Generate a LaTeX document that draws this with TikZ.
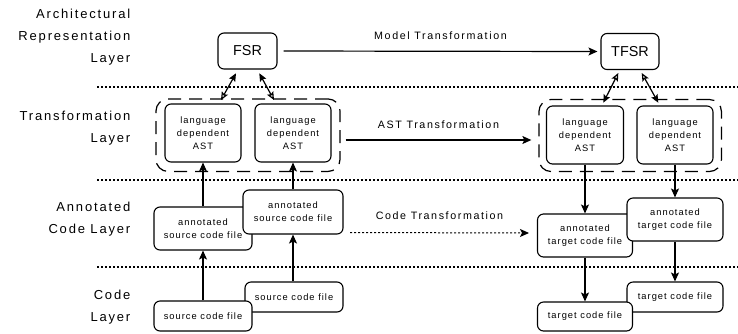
\documentclass[tikz,border=0pt]{standalone}
\usepackage{fontspec}
\setmainfont{Liberation Sans}
\newfontfamily\spfont[LetterSpace=14]{Liberation Sans}
\newfontfamily\trfont[LetterSpace=15]{Liberation Sans}
\newfontfamily\boxfont[LetterSpace=11]{Liberation Sans}
\usetikzlibrary{arrows.meta,calc}
\tikzset{
  layerlab/.style={anchor=east, align=right, font=\spfont\fontsize{13}{22}\selectfont, inner sep=0pt},
  translab/.style={font=\trfont\fontsize{10.7}{13}\selectfont, inner sep=0pt},
  rbox/.style={draw, line width=1.1pt, rounded corners=6pt, fill=white, align=center, inner sep=0pt, font=\boxfont\fontsize{9.3}{13}\selectfont},
  bigbox/.style={draw, line width=1.1pt, rounded corners=6pt, fill=white, inner sep=0pt, font=\fontsize{14.4}{16}\selectfont},
  grp/.style={draw, line width=1.2pt, rounded corners=12pt, dash pattern=on 13pt off 8pt, inner sep=0pt},
  sepline/.style={line width=2.2pt, dash pattern=on 2pt off 2pt},
  arr/.style={line width=1.2pt, -{Stealth[length=9pt,width=8pt,inset=2pt]}},
  dotarr/.style={line width=1pt, dash pattern=on 2pt off 2pt, -{Stealth[length=9pt,width=8pt,inset=2pt]}},
  dbl/.style={line width=1.2pt, {Stealth[open,length=8pt,width=7pt,inset=1.5pt]}-{Stealth[length=8pt,width=7pt,inset=1.5pt]}},
}
\begin{document}
\begin{tikzpicture}[x=1pt,y=-1pt]
\useasboundingbox (0,0) rectangle (738,333);

% layer labels
\node[layerlab] (l1) at (130.5,37.5) {Architectural\\Representation\\Layer};
\node[layerlab] (l2) at (130.5,128.5) {Transformation\\Layer};
\node[layerlab] (l3) at (130.5,219) {Annotated\\Code Layer};
\node[layerlab] (l4) at (130.5,307) {Code\\Layer};

% separators
\coordinate (s1a) at (97,87);  \coordinate (s1b) at (738,87);
\coordinate (s2a) at (97,180); \coordinate (s2b) at (738,180);
\coordinate (s3a) at (97,267); \coordinate (s3b) at (738,267);
\draw[sepline] (s1a) -- (s1b);
\draw[sepline] (s2a) -- (s2b);
\draw[sepline] (s3a) -- (s3b);

% architectural layer
\node[bigbox, minimum width=59pt, minimum height=36pt] (fsr) at (247.5,51) {FSR};
\node[bigbox, minimum width=58pt, minimum height=36pt] (tfsr) at (630,51.5) {TFSR};
\draw[arr] ($(fsr.east)+(6,0)$) -- ($(tfsr.west)+(-3,0)$)
  node[translab, midway, yshift=16pt] (mt) {Model Transformation};

% transformation layer
\node[grp, minimum width=184pt, minimum height=72.5pt] (g1) at (248,135.2) {};
\node[grp, minimum width=182.5pt, minimum height=72pt] (g2) at (630.2,135.5) {};
\node[rbox, minimum width=76pt, minimum height=58pt] (ast1) at (203,133) {language\\dependent\\AST};
\node[rbox, minimum width=76pt, minimum height=58pt] (ast2) at (293,133) {language\\dependent\\AST};
\node[rbox, minimum width=77pt, minimum height=58pt] (ast3) at (585,135) {language\\dependent\\AST};
\node[rbox, minimum width=76pt, minimum height=58pt] (ast4) at (675,135) {language\\dependent\\AST};
\draw[arr] ($(g1.east)+(5,4.8)$) -- ($(g2.west)+(-7,4.5)$)
  node[translab, midway, yshift=15pt] (astt) {AST Transformation};

% double arrows
\coordinate (d1a) at (221,100);   \coordinate (d1b) at (236,73.3);
\coordinate (d2a) at (274,100);   \coordinate (d2b) at (259.3,73.3);
\coordinate (d3a) at (618.3,73);  \coordinate (d3b) at (603.3,102.7);
\coordinate (d4a) at (641.7,73);  \coordinate (d4b) at (658.3,102.7);
\draw[dbl] (d1a) -- (d1b);
\draw[dbl] (d2a) -- (d2b);
\draw[dbl] (d3a) -- (d3b);
\draw[dbl] (d4a) -- (d4b);

% annotated code layer
\node[rbox, minimum width=98pt, minimum height=43pt] (as1) at (203,228.5) {annotated\\source code file};
\node[rbox, minimum width=100pt, minimum height=44pt] (as2) at (293,212) {annotated\\source code file};
\node[rbox, minimum width=95pt, minimum height=43pt] (at1) at (585,235.5) {annotated\\target code file};
\node[rbox, minimum width=96pt, minimum height=43pt] (at2) at (675,219.5) {annotated\\target code file};
\coordinate (ct1) at (350,232.5);
\coordinate (ct2) at (529,233);
\draw[dotarr] (ct1) -- (ct2)
  node[translab, midway, yshift=17.5pt] (ctl) {Code Transformation};

% code layer
\node[rbox, minimum width=98pt, minimum height=30pt] (src2) at (294,297) {source code file};
\node[rbox, minimum width=98pt, minimum height=30pt] (src1) at (203,316) {source code file};
\node[rbox, minimum width=96pt, minimum height=30pt] (tgt2) at (675,297) {target code file};
\node[rbox, minimum width=95pt, minimum height=29pt] (tgt1) at (585,316.5) {target code file};

% vertical arrows
\draw[arr] (src1.north) -- (as1.south);
\draw[arr] (as1.north) -- (ast1.south);
\draw[arr] (src2.north -| as2.south) -- (as2.south);
\draw[arr] (as2.north) -- (ast2.south);
\draw[arr] (ast3.south) -- (at1.north);
\draw[arr] (ast4.south) -- (at2.north);
\draw[arr] (at1.south) -- (tgt1.north);
\draw[arr] (at2.south) -- (tgt2.north -| at2.south);
\end{tikzpicture}
\end{document}
